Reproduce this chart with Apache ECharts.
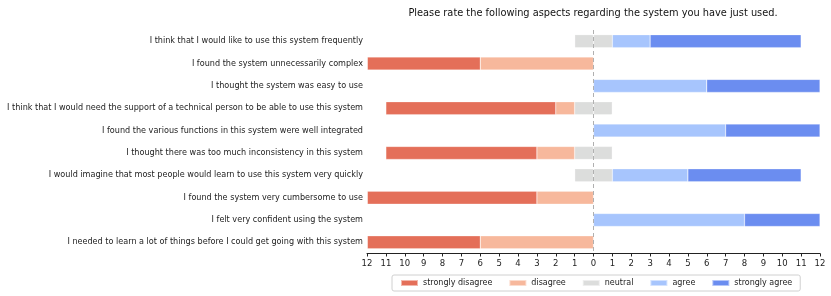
<!DOCTYPE html>
<html>
<head>
<meta charset="utf-8">
<script src="https://cdn.jsdelivr.net/npm/echarts@6/dist/echarts.min.js"></script>
<style>
html,body{margin:0;padding:0;background:#fff;}
#chart{width:831px;height:296px;}
</style>
</head>
<body>
<div id="chart"></div>
<script>
const categories = [
  "I think that I would like to use this system frequently",
  "I found the system unnecessarily complex",
  "I thought the system was easy to use",
  "I think that I would need the support of a technical person to be able to use this system",
  "I found the various functions in this system were well integrated",
  "I thought there was too much inconsistency in this system",
  "I would imagine that most people would learn to use this system very quickly",
  "I found the system very cumbersome to use",
  "I felt very confident using the system",
  "I needed to learn a lot of things before I could get going with this system"
];
const stronglyDisagree = [0, 6, 0, 9, 0, 8, 0, 9, 0, 6];
const disagree         = [0, 6, 0, 1, 0, 2, 0, 3, 0, 6];
const neutral          = [2, 0, 0, 2, 0, 2, 2, 0, 0, 0];
const agree            = [2, 0, 6, 0, 7, 0, 4, 0, 8, 0];
const stronglyAgree    = [8, 0, 6, 0, 5, 0, 6, 0, 4, 0];
const legendNames = ["strongly disagree", "disagree", "neutral", "agree", "strongly agree"];
const colors = {
  "strongly disagree": "#e46f59",
  "disagree": "#f7b89c",
  "neutral": "#dcdddc",
  "agree": "#a7c5fd",
  "strongly agree": "#6b8df0"
};
const FONT = "DejaVu Sans";

const chart = echarts.init(document.getElementById('chart'), null, {renderer: 'canvas'});

function bar(name, data) {
  return {
    name: name,
    type: 'bar',
    stack: 'likert',
    barWidth: 13,
    data: data,
    itemStyle: {color: colors[name], borderColor: 'rgba(255,255,255,0.5)', borderWidth: 0.5},
    emphasis: {disabled: true}
  };
}

const series = [
  bar("neutral", neutral.map(v => v === 0 ? 0 : -v / 2)),
  bar("disagree", disagree.map(v => -v)),
  bar("strongly disagree", stronglyDisagree.map(v => -v)),
  bar("neutral", neutral.map(v => v / 2)),
  bar("agree", agree),
  bar("strongly agree", stronglyAgree)
];
series[0].markLine = {
  silent: true,
  symbol: 'none',
  label: {show: false},
  lineStyle: {color: '#b0b0b0', type: [4, 3], width: 1},
  data: [{xAxis: 0}]
};

chart.setOption({
  animation: false,
  textStyle: {fontFamily: FONT},
  title: {
    text: "Please rate the following aspects regarding the system you have just used.",
    left: 588, top: 3, textAlign: 'center',
    textStyle: {fontFamily: FONT, fontSize: 9.8, fontWeight: 'normal', color: '#111'}
  },
  legend: {
    data: legendNames,
    bottom: 5, left: 392,
    itemWidth: 17, itemHeight: 6, itemGap: 16,
    borderColor: '#d0d0d0', borderWidth: 1, borderRadius: 2,
    padding: [4, 8],
    textStyle: {fontFamily: FONT, fontSize: 8, color: '#222'},
    icon: 'rect'
  },
  grid: {left: 367, right: 11, top: 30, height: 223.5, containLabel: false},
  xAxis: {
    type: 'value', min: -12, max: 12, interval: 1,
    axisLine: {show: true, lineStyle: {color: '#222', width: 1}},
    axisTick: {show: true, length: 3, lineStyle: {color: '#222'}},
    splitLine: {show: false},
    axisLabel: {fontFamily: FONT, fontSize: 8.5, color: '#222', margin: 6,
      formatter: v => String(Math.abs(v))}
  },
  yAxis: {
    type: 'category', data: categories, inverse: true,
    axisLine: {show: false}, axisTick: {show: false},
    axisLabel: {fontFamily: FONT, fontSize: 8.1, color: '#222', margin: 4}
  },
  series: series
});
</script>
</body>
</html>
